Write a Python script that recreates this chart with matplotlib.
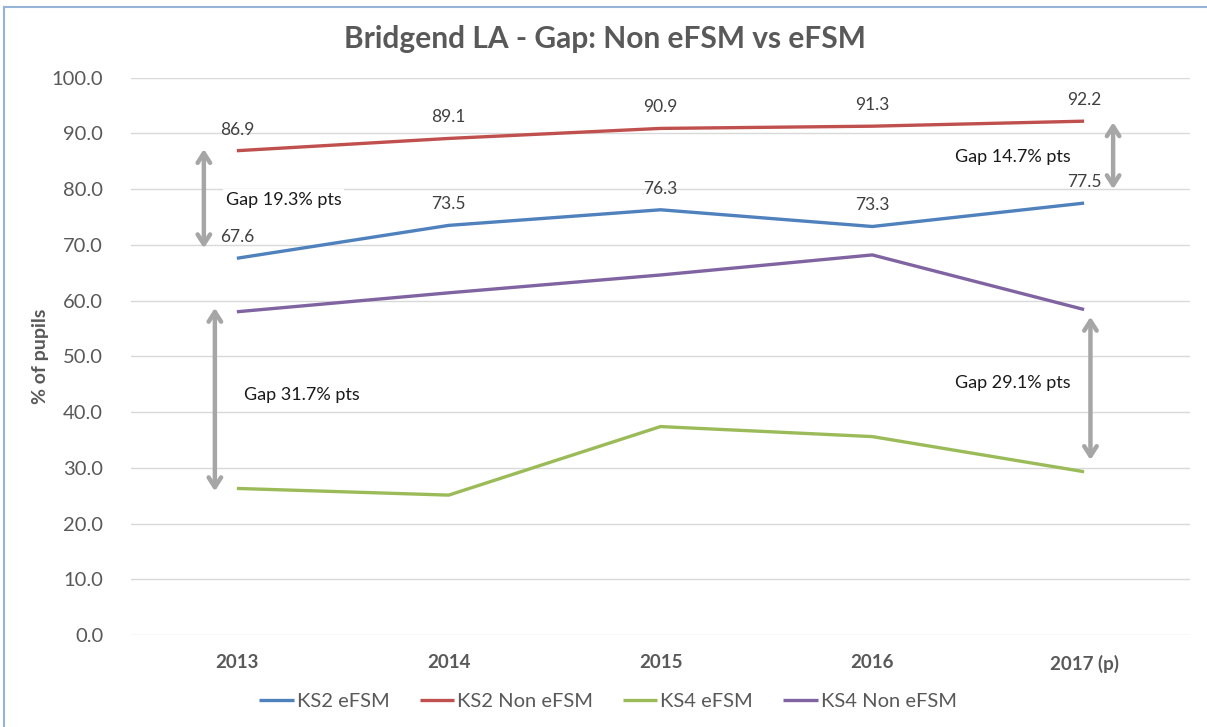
import matplotlib
matplotlib.use("Agg")
import matplotlib.pyplot as plt
from matplotlib.lines import Line2D

plt.rcParams['font.family'] = ['Lato', 'DejaVu Sans']

years = ["2013", "2014", "2015", "2016", "2017 (p)"]
ks2_efsm = [67.6, 73.5, 76.3, 73.3, 77.5]
ks2_non = [86.9, 89.1, 90.9, 91.3, 92.2]
ks4_efsm = [26.3, 25.1, 37.4, 35.6, 29.3]
ks4_non = [58.0, 61.4, 64.6, 68.2, 58.4]

series_names = ["KS2 eFSM", "KS2 Non eFSM", "KS4 eFSM", "KS4 Non eFSM"]
colors = ["#4F81BD", "#C0504D", "#9BBB59", "#8064A2"]

gap_texts = ["Gap 19.3% pts", "Gap 31.7% pts", "Gap 14.7% pts", "Gap 29.1% pts"]

W, H = 1207, 727
fig = plt.figure(figsize=(W / 100, H / 100), dpi=100)
fig.patch.set_facecolor("white")
ax = fig.add_axes([131 / W, 1 - 635 / H, (1190 - 131) / W, (635 - 77.7) / H])

x = list(range(len(years)))
all_series = [ks2_efsm, ks2_non, ks4_efsm, ks4_non]
for vals, name, c in zip(all_series, series_names, colors):
    ax.plot(x, vals, color=c, lw=2.4, label=name, solid_capstyle="butt", zorder=3)

ax.set_xlim(-0.5, len(years) - 0.5)
ax.set_ylim(0, 100)
ax.set_yticks(range(0, 101, 10))
ax.set_yticklabels([f"{v:.1f}" for v in range(0, 101, 10)], fontsize=14.5, color="#595959")
ax.set_xticks(x)
ax.set_xticklabels(years, fontsize=13.5, fontweight="bold", color="#595959")
ax.tick_params(axis="both", length=0)
ax.tick_params(axis="y", pad=20)
ax.tick_params(axis="x", pad=14)
ax.grid(axis="y", color="#D9D9D9", lw=1)
ax.set_axisbelow(True)
for s in ax.spines.values():
    s.set_visible(False)

ax.set_ylabel("% of pupils", fontsize=14, fontweight="bold", color="#595959")
ax.yaxis.set_label_coords(-0.077, 0.5)

# data labels for KS2 series
for i, v in enumerate(ks2_non):
    ax.annotate(f"{v:.1f}", (i, v), xytext=(0, 21), textcoords="offset pixels",
                ha="center", va="center", fontsize=12.5, color="#404040", zorder=4)
for i, v in enumerate(ks2_efsm):
    ax.annotate(f"{v:.1f}", (i, v), xytext=(0, 21), textcoords="offset pixels",
                ha="center", va="center", fontsize=12.5, color="#404040", zorder=4)

# gap arrows
arrows = [(-0.156, 87.2, 69.4), (-0.104, 58.7, 25.8), (4.137, 92.0, 80.0), (4.03, 57.1, 31.4)]
for xa, y1, y2 in arrows:
    ax.annotate("", xy=(xa, y1), xytext=(xa, y2),
                arrowprops=dict(arrowstyle="<->,head_length=0.7,head_width=0.45",
                                color="#A6A6A6", lw=3.2, shrinkA=0, shrinkB=0), zorder=5)

gap_pos = [(-0.052, 78.1), (0.033, 43.1), (3.39, 85.8), (3.39, 45.2)]
for (gx, gy), t in zip(gap_pos, gap_texts):
    ax.text(gx, gy, t, ha="left", va="center", fontsize=13, color="#1a1a1a",
            bbox=dict(facecolor="white", edgecolor="none", pad=2), zorder=4)

fig.text(605 / W, 1 - 39 / H, "Bridgend LA - Gap: Non eFSM vs eFSM", ha="center", va="center",
         fontsize=21.5, fontweight="bold", color="#595959")

leg = fig.legend(loc="center", bbox_to_anchor=(608 / W, 1 - 701 / H), ncol=4, frameon=False,
                 fontsize=14.5, handlelength=1.7, handletextpad=0.15, columnspacing=1.5)
for t in leg.get_texts():
    t.set_color("#595959")
for lh in leg.get_lines():
    lh.set_linewidth(2.4)

# figure border (top and left)
fig.add_artist(Line2D([4 / W, 1], [1 - 7 / H, 1 - 7 / H], color="#95B3D7", lw=1.5, transform=fig.transFigure))
fig.add_artist(Line2D([4 / W, 4 / W], [0, 1 - 7 / H], color="#95B3D7", lw=1.5, transform=fig.transFigure))

fig.savefig("out.png", dpi=100, facecolor="white")
